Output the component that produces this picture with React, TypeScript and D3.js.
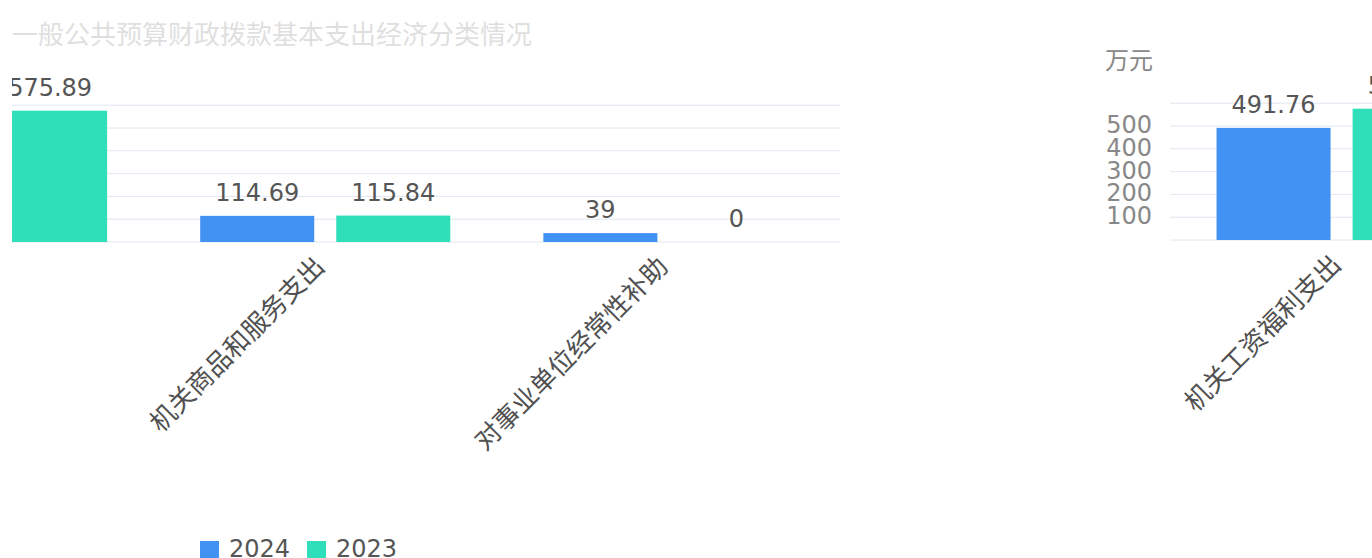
import React from 'react';
import * as d3 from 'd3';

const categories: string[] = ['机关工资福利支出', '机关商品和服务支出', '对事业单位经常性补助'];
const series: string[] = ['2024', '2023'];
const values2024: number[] = [491.76, 114.69, 39];
const values2023: number[] = [575.89, 115.84, 0];
const yTicks: number[] = [0, 100, 200, 300, 400, 500, 600];
const yTickLabels: number[] = [100, 200, 300, 400, 500];

const WIDTH = 1372;
const HEIGHT = 558;
const COLORS = ['#4192f2', '#2fdfba'];
const FONT = '"DejaVu Sans", "Noto Sans CJK SC", sans-serif';

const PLOT_W = 1029.5;
const PLOT_H = 136.8;
const BAND = PLOT_W / categories.length;

interface PanelProps {
  x0: number;
  base: number;
  clipLeft: number;
  showAxis: boolean;
  id: string;
}

const Panel = ({ x0, base, clipLeft, showAxis, id }: PanelProps) => {
  const xScale = d3.scaleBand<string>().domain(categories).range([x0, x0 + PLOT_W]);
  const inner = d3
    .scaleBand<string>()
    .domain(series)
    .range([0, BAND])
    .paddingInner(0.162)
    .paddingOuter(0.342);
  const yScale = d3.scaleLinear().domain([0, 600]).range([base, base - PLOT_H]);
  const data = [values2024, values2023];

  return (
    <g clipPath={`url(#${id})`}>
      <clipPath id={id}>
        <rect x={clipLeft} y={0} width={WIDTH - clipLeft} height={HEIGHT} />
      </clipPath>
      {yTicks.map((t) => (
        <line
          key={t}
          x1={x0}
          x2={x0 + PLOT_W}
          y1={yScale(t)}
          y2={yScale(t)}
          stroke="#e0e6f1"
          strokeWidth={1}
        />
      ))}
      {showAxis && (
        <g>
          <text x={x0 - 65} y={base - 171} fill="#888" fontSize={24} fontFamily={FONT}>
            万元
          </text>
          {yTickLabels.map((t) => (
            <text
              key={t}
              x={x0 - 18}
              y={yScale(t)}
              textAnchor="end"
              dominantBaseline="middle"
              fill="#888"
              fontSize={24}
              fontFamily={FONT}
            >
              {t}
            </text>
          ))}
        </g>
      )}
      {categories.map((c, i) => (
        <g key={c}>
          {series.map((s, j) => {
            const v = data[j][i];
            const bx = (xScale(c) as number) + (inner(s) as number);
            const bw = inner.bandwidth();
            return (
              <g key={s}>
                <rect
                  x={bx}
                  y={yScale(v)}
                  width={bw}
                  height={base - yScale(v)}
                  fill={COLORS[j]}
                />
                <text
                  x={bx + bw / 2}
                  y={yScale(v) - 15}
                  textAnchor="middle"
                  fill="#555"
                  fontSize={24}
                  fontFamily={FONT}
                >
                  {v}
                </text>
              </g>
            );
          })}
          <text
            transform={`translate(${(xScale(c) as number) + BAND / 2 + 1}, ${base + 26}) rotate(-45)`}
            textAnchor="end"
            fill="#505050"
            fontSize={26}
            fontFamily={FONT}
          >
            {c}
          </text>
        </g>
      ))}
    </g>
  );
};

const App = () => {
  return (
    <div style={{ position: 'fixed', left: 0, top: 0, width: WIDTH, height: HEIGHT, overflow: 'hidden', background: '#fff' }}>
      <svg width={WIDTH} height={HEIGHT} viewBox={`0 0 ${WIDTH} ${HEIGHT}`}>
        <text x={12} y={44} fill="#999" opacity={0.3} fontSize={26} fontFamily={FONT}>
          一般公共预算财政拨款基本支出经济分类情况
        </text>
        <Panel x0={-189.5} base={242} clipLeft={12} showAxis={false} id="clipA" />
        <Panel x0={1170} base={240} clipLeft={1080} showAxis={true} id="clipB" />
        {series.map((s, i) => (
          <g key={s} transform={`translate(${200 + i * 107}, 0)`}>
            <rect x={0} y={541} width={19} height={19} fill={COLORS[i]} />
            <text x={29} y={557} fill="#555" fontSize={24} fontFamily={FONT}>
              {s}
            </text>
          </g>
        ))}
      </svg>
    </div>
  );
};

export default App;
